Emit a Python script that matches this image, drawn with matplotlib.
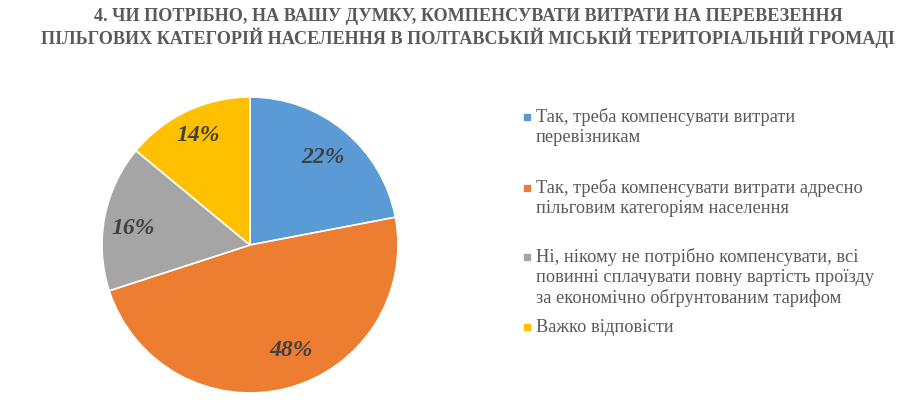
import matplotlib.pyplot as plt
from matplotlib.patches import Rectangle

categories = [
    "Так, треба компенсувати витрати\nперевізникам",
    "Так, треба компенсувати витрати адресно\nпільговим категоріям населення",
    "Ні, нікому не потрібно компенсувати, всі\nповинні сплачувати повну вартість проїзду\nза економічно обґрунтованим тарифом",
    "Важко відповісти",
]
shares = [22, 48, 16, 14]
colors = ["#5B9BD5", "#ED7D31", "#A5A5A5", "#FFC000"]
title = ("4. ЧИ ПОТРІБНО, НА ВАШУ ДУМКУ, КОМПЕНСУВАТИ ВИТРАТИ НА ПЕРЕВЕЗЕННЯ\n"
         "ПІЛЬГОВИХ КАТЕГОРІЙ НАСЕЛЕННЯ В ПОЛТАВСЬКІЙ МІСЬКІЙ ТЕРИТОРІАЛЬНІЙ ГРОМАДІ")

# where excel put the percentage labels (in pie radius units)
label_pos = [(0.49, 0.59), (0.28, -0.71), (-0.79, 0.11), (-0.35, 0.74)]

W, H = 912, 413
fig = plt.figure(figsize=(W / 100, H / 100), dpi=100)
fig.patch.set_facecolor("white")

text_col = "#595959"
fig.text(468 / W, 1 - 28 / H, title, ha="center", va="center", fontsize=13.1,
         fontweight="bold", family="Liberation Serif", color=text_col, linespacing=1.2)

# pie axes
cx, cy, r = 250, 245, 148
ax = fig.add_axes([(cx - r) / W, (H - cy - r) / H, 2 * r / W, 2 * r / H])
wedges, texts = ax.pie(shares, colors=colors, startangle=90, counterclock=False,
                       wedgeprops=dict(edgecolor="white", linewidth=1.2),
                       labels=[f"{s}%" for s in shares], labeldistance=0.7,
                       textprops=dict(fontsize=17, fontweight="bold", fontstyle="italic",
                                      family="Liberation Serif", color="#404040"))
for t, p in zip(texts, label_pos):
    t.set_position(p)
    t.set_ha("center")
    t.set_va("center")
ax.set_xlim(-1, 1)
ax.set_ylim(-1, 1)
ax.set_aspect("equal")

# legend
leg_first = [117, 188, 257, 327]
for cat, col, y in zip(categories, colors, leg_first):
    n = cat.count("\n")
    fig.patches.append(Rectangle((524 / W, 1 - (y + 3) / H), 6 / W, 6 / H,
                                 transform=fig.transFigure, color=col))
    fig.text(536 / W, 1 - (y + n * 10.3) / H, cat, ha="left", va="center", fontsize=13.2,
             family="Liberation Serif", color=text_col, linespacing=1.25)

fig.savefig("out.png", dpi=100)
